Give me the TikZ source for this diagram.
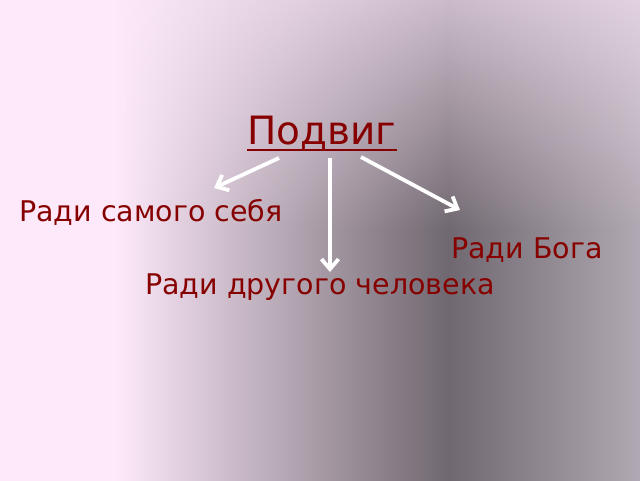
\documentclass[tikz,border=0pt]{standalone}
\usepackage{fontspec}
\setmainfont{DejaVu Sans}
\usetikzlibrary{arrows.meta,calc,fadings}

\definecolor{slidepink}{RGB}{253,233,250}
\definecolor{slidegray}{RGB}{112,104,112}
\definecolor{slideedge}{RGB}{176,168,178}
\definecolor{wordred}{RGB}{135,0,0}

\pgfdeclarehorizontalshading{slidebg}{100bp}{%
  color(0bp)=(slidepink); color(25bp)=(slidepink); color(34bp)=(slidepink);
  color(60bp)=(slidegray); color(75bp)=(slideedge); color(100bp)=(slideedge)}

\tikzset{
  word/.style={text=wordred, inner sep=0pt, font=\fontsize{28.5}{32}\selectfont},
  title/.style={word, font=\fontsize{39}{44}\selectfont},
  arr/.style={draw=white, line width=3.8pt, -{Straight Barb[length=10pt,width=17pt]}}
}

\begin{document}
\begin{tikzpicture}[x=1pt,y=-1pt]
  % background
  \shade[shading=slidebg] (0,0) rectangle (640,480);
  \fill[slidepink, path fading=south, fill opacity=0.65] (0,0) rectangle (640,230);
  \useasboundingbox (0,0) rectangle (640,480);

  % texts
  \node[title] (podvig) at (322,133) {Подвиг};
  \node[word] (self) at (151,212) {Ради самого себя};
  \node[word] (god) at (527,250) {Ради Бога};
  \node[word] (other) at (320,287) {Ради другого человека};

  \draw[wordred, line width=2pt] ($(podvig.base west)+(0,5)$) -- ($(podvig.base east)+(0,5)$);

  % arrows
  \foreach \name/\fx/\fy/\tx/\ty in {a/279/158/214/188, b/330/158/330/272, c/361/157/460/210}{
    \coordinate (\name from) at (\fx,\fy);
    \coordinate (\name to) at (\tx,\ty);
    \draw[arr] (\name from) -- (\name to);
  }
\end{tikzpicture}
\end{document}
